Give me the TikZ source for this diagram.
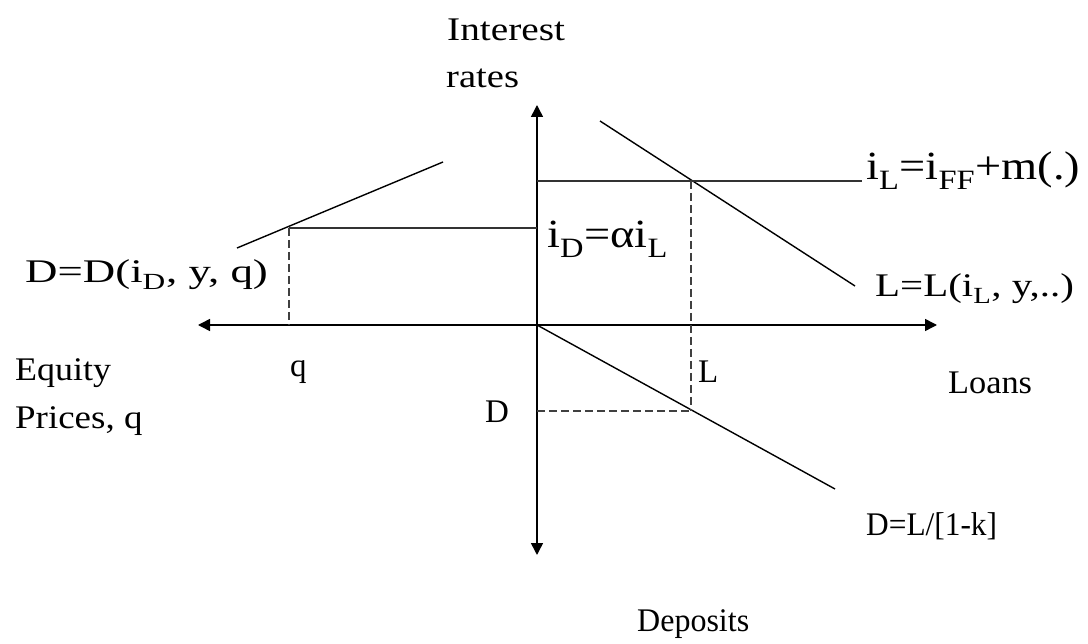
\documentclass[tikz,border=0pt]{standalone}
\usepackage{fontspec}
\setmainfont{Liberation Serif}
\usetikzlibrary{arrows.meta}
\newcommand\hstretch[2]{\scalebox{#1}[1]{#2}}
\begin{document}
\begin{tikzpicture}[x=1pt,y=-1pt,
  axis/.style={line width=1.5pt,-{Triangle[length=12pt,width=12pt]}},
  curve/.style={line width=1.4pt},
  level/.style={line width=1.6pt,black!80},
  guide/.style={line width=1.5pt,black!75,dash pattern=on 8pt off 4pt},
  word/.style={inner sep=0pt,anchor=base west,font=\fontsize{33}{39}\selectfont},
  formula/.style={inner sep=0pt,anchor=base west,font=\fontsize{40}{46}\selectfont}]
\useasboundingbox (0,0) rectangle (1088,644);
% key points
\coordinate (O) at (537,325);
\coordinate (top) at (537,105);
\coordinate (bot) at (537,555);
\coordinate (right) at (937,325);
\coordinate (left) at (198,325);
\coordinate (Ls) at (600,121);
\coordinate (Le) at (855,286);
\coordinate (iLs) at (537,181);
\coordinate (iLe) at (862,181);
\coordinate (P) at (691,181);
\coordinate (De) at (835,489);
\coordinate (Q) at (691,411);
\coordinate (Dax) at (537,411);
\coordinate (Sd) at (237,248);
\coordinate (Se) at (443,162);
\coordinate (R) at (289,228);
\coordinate (iDe) at (537,228);
\coordinate (Rq) at (289,325);
% axes
\draw[axis] (O) -- (top);
\draw[axis] (O) -- (bot);
\draw[axis] (O) -- (right);
\draw[axis] (O) -- (left);
% curves
\draw[curve] (Ls) -- (Le);
\draw[curve] (O) -- (De);
\draw[curve] (Sd) -- (Se);
\draw[level] (iLs) -- (iLe);
\draw[level] (R) -- (iDe);
\draw[guide] (P) -- (Q);
\draw[guide] (Dax) -- (Q);
\draw[guide] (R) -- (Rq);
% labels
\node[word] (t1) at (447,41) {\hstretch{1.19}{Interest}};
\node[word] (t2) at (446,88) {\hstretch{1.17}{rates}};
\node[formula] (fL) at (866,180) {\hstretch{1.16}{i\textsubscript{L}=i\textsubscript{FF}+m(.)}};
\node[formula] (fD) at (547,248) {\hstretch{1.16}{i\textsubscript{D}=αi\textsubscript{L}}};
\node[word] (dD) at (25,283) {\hstretch{1.36}{D=D(i\textsubscript{D}, y, q)}};
\node[word] (lL) at (875,297) {\hstretch{1.24}{L=L(i\textsubscript{L}, y,..)}};
\node[word] (q) at (290,377) {q};
\node[word] (lbL) at (698,383) {L};
\node[word] (lbD) at (485,423) {D};
\node[word] (eq) at (15,381) {\hstretch{1.09}{Equity}};
\node[word] (pr) at (15,429) {\hstretch{1.12}{Prices, q}};
\node[word] (lo) at (948,394) {\hstretch{1.04}{Loans}};
\node[word] (dl) at (866,535) {\hstretch{0.95}{D=L/[1-k]}};
\node[word] (dep) at (637,631) {\hstretch{0.97}{Deposits}};
\end{tikzpicture}
\end{document}
